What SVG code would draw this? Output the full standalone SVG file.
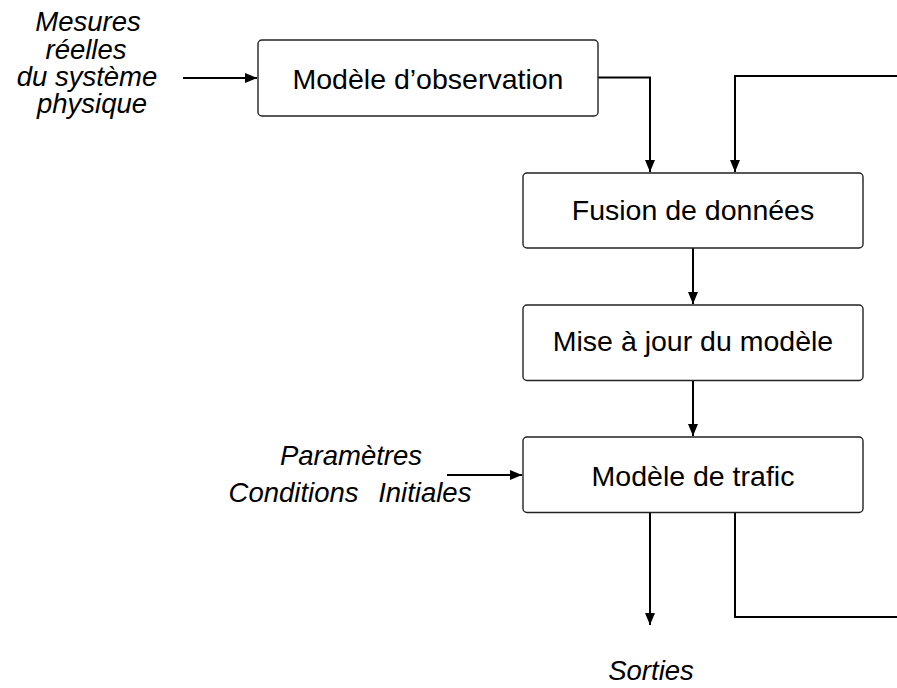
<svg xmlns="http://www.w3.org/2000/svg" width="897" height="688" viewBox="0 0 897 688">
<defs>
<style>
.box{fill:#fff;stroke:#222;stroke-width:1.4}
.t{font-family:"Liberation Sans",Arial,sans-serif;font-size:28.5px;fill:#000;text-anchor:middle}
.i{font-family:"Liberation Sans",Arial,sans-serif;font-size:27.5px;font-style:italic;fill:#000;text-anchor:middle}
.c{fill:none;stroke:#000;stroke-width:2}
</style>
<marker id="ah" viewBox="0 0 12 10" refX="12" refY="5" markerWidth="12" markerHeight="10" markerUnits="userSpaceOnUse" orient="auto">
<path d="M0,0 L12,5 L0,10 Z" fill="#000"/>
</marker>
</defs>
<rect width="897" height="688" fill="#fff"/>
<g id="connectors">
<path class="c" d="M183,78 L257,78" marker-end="url(#ah)"/>
<path class="c" d="M598,77.5 L650,77.5 L650,172" marker-end="url(#ah)"/>
<path class="c" d="M900,76 L735,76 L735,172" marker-end="url(#ah)"/>
<path class="c" d="M693,248 L693,304" marker-end="url(#ah)"/>
<path class="c" d="M693,380.5 L693,436" marker-end="url(#ah)"/>
<path class="c" d="M447,475 L522,475" marker-end="url(#ah)"/>
<path class="c" d="M650,512.5 L650,625" marker-end="url(#ah)"/>
<path class="c" d="M735,512.5 L735,617 L900,617"/>
</g>
<g id="input-mesures">
<text class="i" x="88" y="31">Mesures</text>
<text class="i" x="86" y="58.5">réelles</text>
<text class="i" x="87" y="86">du système</text>
<text class="i" x="92" y="113">physique</text>
</g>
<g id="node-observation">
<rect class="box" x="258" y="40" width="340" height="76" rx="4"/>
<text class="t" x="428" y="89">Modèle d’observation</text>
</g>
<g id="node-fusion">
<rect class="box" x="523" y="173" width="340" height="75" rx="4"/>
<text class="t" x="693" y="220">Fusion de données</text>
</g>
<g id="node-miseajour">
<rect class="box" x="523" y="305" width="340" height="75.5" rx="4"/>
<text class="t" x="693" y="350.5">Mise à jour du modèle</text>
</g>
<g id="node-trafic">
<rect class="box" x="523" y="437" width="340" height="75.5" rx="4"/>
<text class="t" x="693" y="486">Modèle de trafic</text>
</g>
<g id="input-parametres">
<text class="i" x="351" y="465">Paramètres</text>
<text class="i" x="350" y="502" word-spacing="12">Conditions Initiales</text>
</g>
<g id="output-sorties">
<text class="i" x="651" y="680">Sorties</text>
</g>
</svg>
